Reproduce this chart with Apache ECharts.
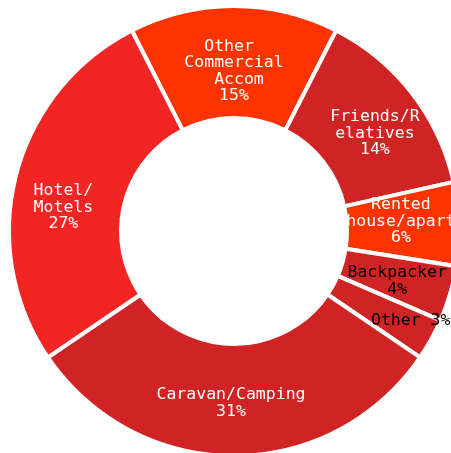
<!DOCTYPE html>
<html>
<head>
<meta charset="utf-8">
<script src="https://cdn.jsdelivr.net/npm/echarts@6/dist/echarts.min.js"></script>
<style>
  html, body { margin: 0; padding: 0; background: #ffffff; }
  #chart { width: 451px; height: 453px; }
</style>
</head>
<body>
<div id="chart"></div>
<script>
// Accommodation type shares (percent), listed clockwise from the top slice
const categories = [
  'Other Commercial Accom',
  'Friends/Relatives',
  'Rented house/apartment',
  'Backpacker',
  'Other',
  'Caravan/Camping',
  'Hotel/Motels'
];
const shares = [15, 14, 6, 4, 3, 31, 27];
const sliceColors = ['#FF3300', '#D02323', '#FF3300', '#D02323', '#D02323', '#D02323', '#F22424'];
const labelColors = ['#ffffff', '#ffffff', '#ffffff', '#000000', '#000000', '#ffffff', '#ffffff'];

// Per-slice label wrapping and nudges
const labelTweaks = [
  { width: 104, overflow: 'break', offset: [0, 12] },
  { width: 94, overflow: 'breakAll', offset: [5, 8] },
  { firstBreak: true, width: 117, overflow: 'truncate', ellipsis: '', offset: [-5, -4] },
  { offset: [-2, 2] },
  { inline: true, offset: [26, 7] },
  { offset: [-3, 0] },
  { width: 64, overflow: 'break', offset: [-4, 19] }
];

const chart = echarts.init(document.getElementById('chart'), null, { renderer: 'canvas' });

const data = categories.map((name, i) => {
  const t = labelTweaks[i];
  const shown = t.firstBreak ? name.replace(' ', '\n') : name;
  const label = {
    color: labelColors[i],
    offset: t.offset,
    formatter: t.inline ? `${shown} ${shares[i]}%` : `${shown}\n${shares[i]}%`
  };
  if (t.width) {
    label.width = t.width;
    label.overflow = t.overflow;
  }
  if (t.ellipsis !== undefined) label.ellipsis = t.ellipsis;
  return {
    name,
    value: shares[i],
    itemStyle: { color: sliceColors[i] },
    label
  };
});

chart.setOption({
  animation: false,
  backgroundColor: '#ffffff',
  series: [{
    type: 'pie',
    center: [234, 231],
    radius: [113, 225],
    startAngle: 117,
    clockwise: true,
    avoidLabelOverlap: false,
    itemStyle: { borderColor: '#ffffff', borderWidth: 4 },
    label: {
      show: true,
      position: 'inside',
      fontFamily: 'DejaVu Sans Mono',
      fontSize: 16.5,
      lineHeight: 16.5,
      align: 'center'
    },
    labelLine: { show: false },
    data
  }]
});
</script>
</body>
</html>
